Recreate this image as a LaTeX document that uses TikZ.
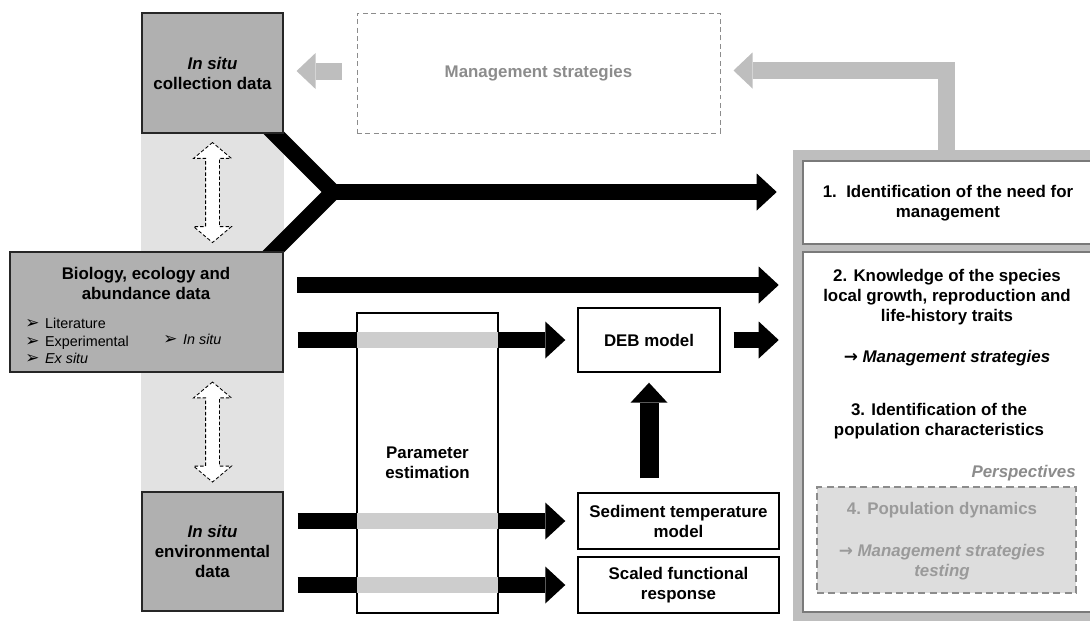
\documentclass[tikz,border=0pt]{standalone}
\usepackage{fontspec}
\setmainfont{Liberation Sans}
\newfontfamily\dingfont{DejaVu Sans}
\usetikzlibrary{arrows.meta,shapes.arrows,backgrounds}
\newlength\pu
\setlength\pu{0.025cm}
\definecolor{BoxGray}{HTML}{B0B0B0}
\definecolor{Strip}{HTML}{E2E2E2}
\definecolor{Frame}{HTML}{BEBEBE}
\definecolor{Band}{HTML}{CDCDCD}
\definecolor{Faint}{HTML}{8C8C8C}
\definecolor{Muted}{HTML}{9A9A9A}
\definecolor{Pale}{HTML}{DDDDDD}
\definecolor{Edge}{HTML}{7A7A7A}
\newcommand\srcmark{{\dingfont\fontsize{12}{12.4}\selectfont ➢}\hspace{0.4em}}
\newcommand\thenarrow{{\dingfont →}\ }
\tikzset{lbl/.style={font=\bfseries\fontsize{12}{14.2}\selectfont,align=center,inner sep=0pt},
databox/.style={lbl,draw=black!85,line width=0.8pt,fill=BoxGray},
modelbox/.style={lbl,draw=black,line width=1pt,fill=white},
stagebox/.style={draw=Edge,line width=1pt,fill=white,inner sep=0pt},
mgmtbox/.style={lbl,draw=Faint,text=Faint,line width=0.7pt,dash pattern=on 3.5pt off 2.5pt},
persbox/.style={draw=Faint,fill=Pale,line width=1.4pt,dash pattern=on 5pt off 3pt,inner sep=0pt},
srclist/.style={font=\fontsize{10.2}{12.4}\selectfont,align=left,inner sep=0pt},
fatarrow/.style={line width=16\pu,-{Triangle[width=0.925cm,length=0.5cm,line width=0pt]}},
greyarrow/.style={color=Frame,line width=17\pu,line join=miter,-{Triangle[width=0.9cm,length=0.475cm,line width=0pt]}},
dblarrow/.style={shape=double arrow,rotate=90,draw=black,fill=white,line width=0.6pt,dash pattern=on 2.5pt off 1.5pt,minimum height=100\pu,minimum width=37\pu,double arrow head extend=12\pu,double arrow tip angle=100,inner sep=6.5\pu}}

\begin{document}
\begin{tikzpicture}[x=\pu,y=-\pu]
\useasboundingbox (0,0) rectangle (1090,620);
\clip (0,0) rectangle (1090,620);
\node[databox,minimum width=141\pu,minimum height=120\pu] (coll) at (212.5,73) {\textit{In situ}\\collection data};
\node[databox,minimum width=273\pu,minimum height=120\pu] (bio) at (146.5,312) {};
\node[lbl] (biotitle) at (146,283) {Biology, ecology and\\abundance data};
\node[srclist,anchor=west] (sources) at (25,341) {\srcmark Literature\\\srcmark Experimental\\\srcmark \textit{Ex situ}};
\node[srclist,anchor=west] (insitu) at (163,339) {\srcmark \textit{In situ}};
\node[databox,minimum width=141\pu,minimum height=119\pu] (env) at (212.5,551.5) {\textit{In situ}\\environmental\\data};
\coordinate (fork) at (333,192);
\begin{scope}[on background layer]
\fill[Strip] (coll.south west) rectangle (env.north east);
\draw[line width=16\pu,line join=miter] ([shift={(-20,-11)}]coll.south east) -- (fork) -- ([shift={(-20,10)}]bio.north east);
\end{scope}
\path (coll.south) -- (coll.south |- bio.north) node[midway,dblarrow] (link1) {};
\path (bio.south -| coll.south) -- (env.north) node[midway,dblarrow] (link2) {};

\node[mgmtbox,minimum width=363\pu,minimum height=120\pu] (mgmt) at (538.5,73) {Management strategies};

\node[modelbox,minimum width=142\pu,minimum height=64\pu] (deb) at (649,340) {DEB model};
\node[modelbox,minimum width=201\pu,minimum height=56\pu] (sed) at (678.5,521) {Sediment temperature\\model};
\node[modelbox,minimum width=201\pu,minimum height=56\pu] (sfr) at (678.5,585) {Scaled functional\\response};

\node[fill=Frame,minimum width=312\pu,minimum height=500\pu,inner sep=0pt] (frame) at (949,400) {};
\node[stagebox,minimum width=292\pu,minimum height=83\pu] (need) at (949,202.5) {};
\node[stagebox,minimum width=292\pu,minimum height=360\pu] (know) at (949,432) {};
\node[lbl] (needtxt) at (948,203) {1.\ \ Identification of the need for\\management};
\node[lbl] (k2) at (947,297) {2. Knowledge of the species\\local growth, reproduction and\\life-history traits};
\node[lbl] (k2m) at (947,358) {\thenarrow\textit{Management strategies}};
\node[lbl] (k3) at (939,421) {3. Identification of the\\population characteristics};
\node[lbl,text=Faint,anchor=east] (persp) at (1076,473) {\textit{Perspectives}};
\node[persbox,minimum width=259\pu,minimum height=106\pu] (pop) at (946.5,540) {};
\node[lbl,text=Muted] (k4) at (942,510) {4. Population dynamics};
\node[lbl,text=Muted] (k4m) at (942,562) {\thenarrow\textit{Management strategies}\\\textit{testing}};

\coordinate (row1) at (297,285);
\coordinate (lift) at (946,152);
\draw[fatarrow,shorten >=16\pu] (fork) -- (fork -| frame.west);
\draw[fatarrow,shorten >=14\pu] (row1) -- (row1 -| frame.west);
\draw[fatarrow,shorten >=12\pu] ([xshift=14\pu]bio.east |- deb.west) -- (deb.west);
\draw[fatarrow,shorten >=12\pu] ([xshift=14\pu]env.east |- sed.west) -- (sed.west);
\draw[fatarrow,shorten >=12\pu] ([xshift=14\pu]env.east |- sfr.west) -- (sfr.west);
\draw[fatarrow,shorten >=14\pu] ([xshift=13\pu]deb.east) -- (deb.east -| frame.west);
\draw[fatarrow,line width=19\pu,shorten >=10\pu] ([yshift=14\pu]deb.south |- sed.north) -- (deb.south);
\draw[greyarrow,shorten >=13\pu] ([shift={(-15,-2)}]mgmt.west) -- ([yshift=2\pu]coll.east);
\draw[greyarrow,shorten >=13\pu] (lift) |- ([yshift=2.5\pu]mgmt.east);

\node[modelbox,minimum width=141\pu,minimum height=300\pu] (param) at (427.5,463) {Parameter\\estimation};
\foreach \row in {deb,sed,sfr}
  \fill[Band] ([xshift=0.6pt,yshift=8\pu]param.west |- \row.west) rectangle ([xshift=-0.6pt,yshift=-8\pu]param.east |- \row.west);
\end{tikzpicture}
\end{document}
